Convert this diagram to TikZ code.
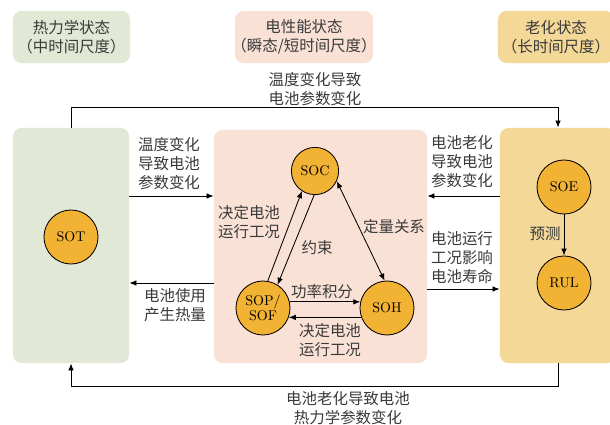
\documentclass[tikz,border=0pt]{standalone}
\usepackage{fontspec}
\newfontfamily\cjk{Noto Sans CJK SC}
\usetikzlibrary{arrows.meta}

\definecolor{thermofill}{HTML}{E1E8D6}
\definecolor{elecfill}{HTML}{F9E1D5}
\definecolor{agefill}{HTML}{F4D897}
\definecolor{statefill}{HTML}{F2B233}
\definecolor{txt}{HTML}{3A3A3A}
% tight full-width parentheses
\newcommand{\lpar}{\kern-.35em（}
\newcommand{\rpar}{）\kern-.35em}

\begin{document}
\begin{tikzpicture}[x=0.025cm, y=-0.025cm,
  >={Latex[length=5pt,width=4pt]}, line width=0.6pt,
  lbl/.style={font=\cjk\fontsize{11}{13.5}\selectfont, text=txt, align=center, inner sep=0pt},
  panel/.style={rounded corners=6pt, inner sep=0pt},
  hdr/.style={panel, lbl, minimum height=1.3cm},
  state/.style={circle, draw, fill=statefill, minimum size=1.35cm, inner sep=0pt,
                align=center, font=\fontsize{10}{11}\selectfont}]
\clip (0,0) rectangle (610,425);
% column headers
\node[hdr, fill=thermofill, minimum width=2.925cm] (hthermo) at (71.5,37) {热力学状态\\\lpar 中时间尺度\rpar};
\node[hdr, fill=elecfill, minimum width=3.45cm] (helec) at (304,37) {电性能状态\\\lpar 瞬态/短时间尺度\rpar};
\node[hdr, fill=agefill, minimum width=2.9cm] (hage) at (556,37) {老化状态\\\lpar 长时间尺度\rpar};
% panels
\node[panel, fill=thermofill, minimum width=2.9cm, minimum height=5.875cm] (thermo) at (71,245.5) {};
\node[panel, fill=elecfill, minimum width=5.325cm, minimum height=5.825cm] (elec) at (320.5,246.5) {};
\node[panel, fill=agefill, minimum width=2.9cm, minimum height=5.875cm] (aging) at (558,245.5) {};
% states
\node[state] (sot) at (71,237) {SOT};
\node[state, minimum size=1.18cm] (soc) at (315,171) {SOC};
\node[state] (sop) at (263,308) {SOP/\\SOF};
\node[state] (soh) at (387,308) {SOH};
\node[state] (soe) at (564,187) {SOE};
\node[state] (rul) at (564,283) {RUL};
% links between panels
\draw[->] (thermo.north) -- (thermo.north |- 0,107) -| (aging.north);
\draw[->] (aging.south) -- (aging.south |- 0,386) -| (thermo.south);
\draw[->] (thermo.east |- 0,196) -- (elec.west |- 0,196);
\draw[->] (elec.west |- 0,283) -- (thermo.east |- 0,283);
\draw[->] (aging.west |- 0,196) -- (elec.east |- 0,196);
\draw[->] (elec.east |- 0,289) -- (aging.west |- 0,289);
% links between states
\draw[->] (sop.80) -- (soc.237);
\draw[->] (soc.268) -- (sop.58);
\draw[<->] (soc.-25) -- (soh.95);
\draw[->] (sop.13) -- (soh.167);
\draw[->] (soh.200) -- (sop.-20);
\draw[->] (soe) -- (rul);
% labels
\node[lbl] (ltop) at (315,89) {温度变化导致\\电池参数变化};
\node[lbl] (lbot) at (348,408) {电池老化导致电池\\热力学参数变化};
\node[lbl] (lte) at (169,164) {温度变化\\导致电池\\参数变化};
\node[lbl] (let) at (175,305) {电池使用\\产生热量};
\node[lbl] (lae) at (462,162) {电池老化\\导致电池\\参数变化};
\node[lbl] (lea) at (462,258) {电池运行\\工况影响\\电池寿命};
\node[lbl] (lps) at (249,222) {决定电池\\运行工况};
\node[lbl] (lsp) at (317,248) {约束};
\node[lbl] (lsh) at (394,227) {定量关系};
\node[lbl] (lph) at (322,292) {功率积分};
\node[lbl] (lhp) at (330,340) {决定电池\\运行工况};
\node[lbl] (lpred) at (545,234) {预测};
\end{tikzpicture}
\end{document}
